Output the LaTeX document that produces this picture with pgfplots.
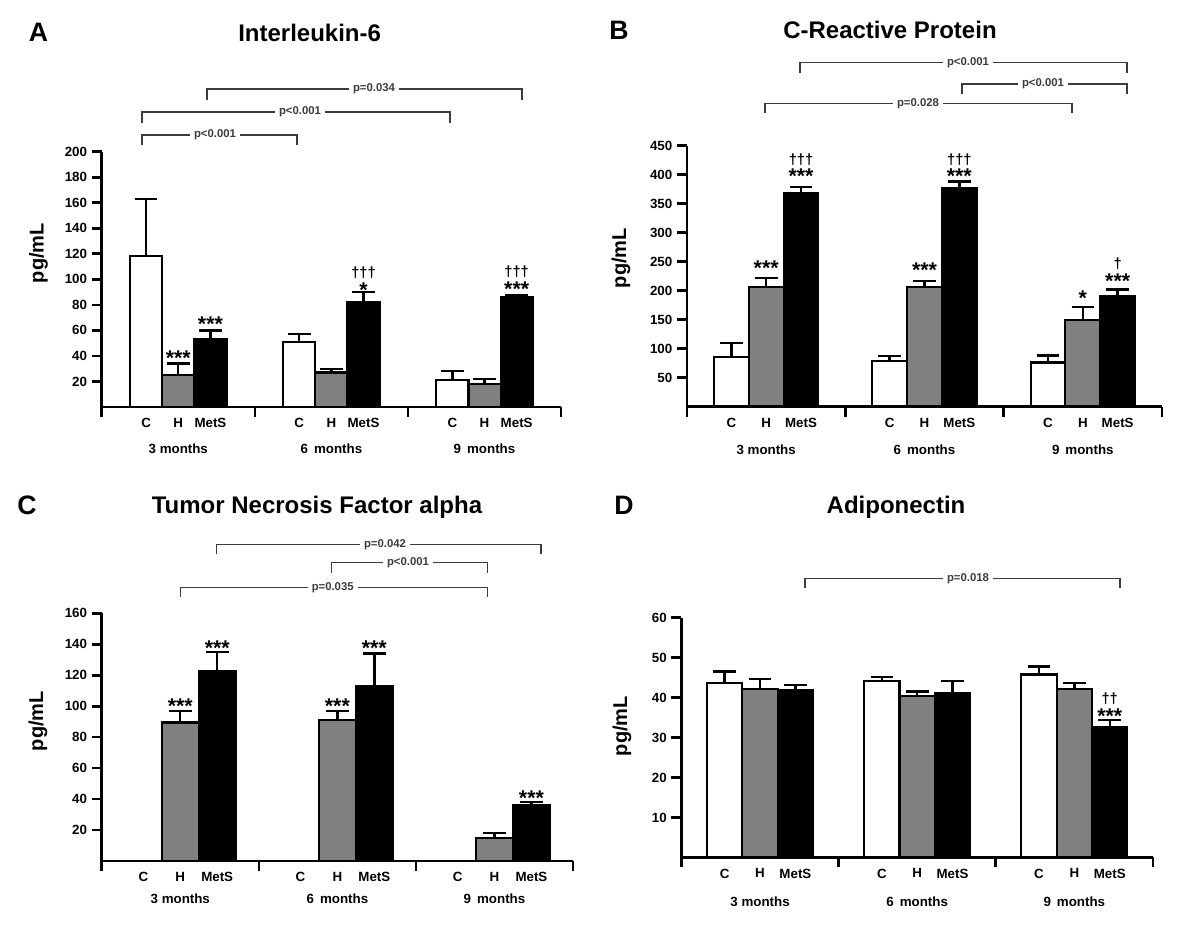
\documentclass[border=0pt]{standalone}
\usepackage{pgfplots}
\pgfplotsset{compat=1.18}
\usepackage{pgfplotstable}
\usepackage{fontspec}
\setmainfont{Liberation Sans}
\definecolor{barg}{RGB}{128,128,128}
\definecolor{brk}{RGB}{60,60,60}

% group, value and SEM for Control (C), H and MetS
\pgfplotstableread{
g C Ce H He M Me
1 118 45 25 9 53 7
2 51 6 27 3 82 8
3 21 7 18 4 86 1.5
}\tabIL
\pgfplotstableread{
g C Ce H He M Me
1 85 25 206 16 369 10
2 79 8 206 11 377 11
3 76 12 149 23 191 11
}\tabCRP
\pgfplotstableread{
g C Ce H He M Me
1 0 0 89.5 7.5 123 12
2 0 0 91 6 113 21
3 0 0 15 3 36 2
}\tabTNF
\pgfplotstableread{
g C Ce H He M Me
1 43.7 2.8 42.2 2.5 41.9 1.3
2 44.2 1.0 40.4 1.1 41.2 2.9
3 45.8 2.0 42.2 1.5 32.6 1.8
}\tabADI

\newcommand{\tfont}{\bfseries\fontsize{10}{12}\selectfont}
\pgfplotsset{
  panel/.style={scale only axis, anchor=south west, clip=false,
    xmin=0.5, xmax=3.5, ymin=0,
    axis x line*=bottom, axis y line*=left,
    axis line style={-, line width=2pt, black},
    tick align=outside, major tick length=7.5pt,
    tick style={line width=2pt, black},
    xtick={0.5,1.5,2.5,3.5}, xticklabels={},
    extra x tick labels={C,H,MetS,C,H,MetS,C,H,MetS},
    extra x tick style={major tick length=0pt, tick label style={yshift=-5pt}},
    /pgf/number format/assume math mode=true,
    tick label style={font=\tfont, black}},
  bC/.style={ybar, bar shift=0pt, fill=white, draw=black, line width=1.6pt},
  bH/.style={ybar, bar shift=0pt, fill=barg, draw=black, line width=1.6pt},
  bM/.style={ybar, bar shift=0pt, fill=black, draw=black, line width=1.6pt},
  err/.style={/pgfplots/error bars/y dir=plus, /pgfplots/error bars/y explicit,
    /pgfplots/error bars/error bar style={line width=1.8pt, black},
    /pgfplots/error bars/error mark options={rotate=90, line width=1.8pt, black, mark size=8.5pt}},
}
\tikzset{
  ast/.style={font=\bfseries\fontsize{16}{18}\selectfont, inner sep=0pt},
  dag/.style={font=\bfseries\fontsize{11}{13}\selectfont, inner sep=0pt},
  mon/.style={font=\tfont},
  ttl/.style={font=\bfseries\fontsize{18}{20}\selectfont, anchor=base},
  let/.style={font=\bfseries\fontsize{20}{22}\selectfont, anchor=base},
  ylab/.style={font=\bfseries\fontsize{15}{17}\selectfont, rotate=90},
  pv/.style={font=\bfseries\fontsize{8.5}{10}\selectfont, fill=white, inner xsep=3pt, inner ysep=1pt, text=brk},
}

\begin{document}
\begin{tikzpicture}
\useasboundingbox (0,0) rectangle (900pt,-696.75pt);

% A: Interleukin-6
\begin{axis}[panel, at={(76.3pt,-305.25pt)}, width=344.5pt, height=191.5pt,
  ymax=200, ytick={20,40,...,200},
  extra x ticks={0.79,1,1.21,1.79,2,2.21,2.79,3,3.21}]
\addplot[bC, bar width=0.21, err] table[x expr=\thisrow{g}-0.21, y=C, y error=Ce] {\tabIL};
\addplot[bH, bar width=0.21, err] table[x expr=\thisrow{g}, y=H, y error=He] {\tabIL};
\addplot[bM, bar width=0.21, err] table[x expr=\thisrow{g}+0.21, y=M, y error=Me] {\tabIL};
\node[ast] at (axis cs:1,37.9) {***};
\node[ast] at (axis cs:1.21,64.6) {***};
\node[dag] at (axis cs:2.21,105.2) {†††};
\node[ast] at (axis cs:2.21,91.2) {*};
\node[dag] at (axis cs:3.21,106) {†††};
\node[ast] at (axis cs:3.21,92) {***};
\node[mon, yshift=-31.5pt] at (axis cs:1,0) {3 months};
\node[mon, yshift=-31.5pt] at (axis cs:2,0) {6\hspace{0.45em}months};
\node[mon, yshift=-31.5pt] at (axis cs:3,0) {9\hspace{0.45em}months};
\end{axis}

% B: C-Reactive Protein
\begin{axis}[panel, at={(515.25pt,-304.9pt)}, width=356.25pt, height=195.6pt,
  ymax=450, ytick={50,100,...,450},
  extra x ticks={0.78,1,1.22,1.78,2,2.22,2.78,3,3.22}]
\addplot[bC, bar width=0.22, err] table[x expr=\thisrow{g}-0.22, y=C, y error=Ce] {\tabCRP};
\addplot[bH, bar width=0.22, err] table[x expr=\thisrow{g}, y=H, y error=He] {\tabCRP};
\addplot[bM, bar width=0.22, err] table[x expr=\thisrow{g}+0.22, y=M, y error=Me] {\tabCRP};
\node[ast] at (axis cs:1,239) {***};
\node[dag] at (axis cs:1.22,425.3) {†††};
\node[ast] at (axis cs:1.22,397.2) {***};
\node[ast] at (axis cs:2,234.5) {***};
\node[dag] at (axis cs:2.22,426.5) {†††};
\node[ast] at (axis cs:2.22,397.2) {***};
\node[ast] at (axis cs:3,186.2) {*};
\node[dag] at (axis cs:3.22,247) {†};
\node[ast] at (axis cs:3.22,217.2) {***};
\node[mon, yshift=-32.6pt] at (axis cs:1,0) {3 months};
\node[mon, yshift=-32.6pt] at (axis cs:2,0) {6\hspace{0.45em}months};
\node[mon, yshift=-32.6pt] at (axis cs:3,0) {9\hspace{0.45em}months};
\end{axis}

% C: Tumor Necrosis Factor alpha
\begin{axis}[panel, at={(76.3pt,-645.75pt)}, width=353.5pt, height=185.8pt,
  ymax=160, ytick={20,40,...,160},
  extra x ticks={0.765,1,1.235,1.765,2,2.235,2.765,3,3.235}]
\addplot[bC, bar width=0.235] table[x expr=\thisrow{g}-0.235, y=C] {\tabTNF};
\addplot[bH, bar width=0.235, err] table[x expr=\thisrow{g}, y=H, y error=He] {\tabTNF};
\addplot[bM, bar width=0.235, err] table[x expr=\thisrow{g}+0.235, y=M, y error=Me] {\tabTNF};
\node[ast] at (axis cs:1,99.9) {***};
\node[ast] at (axis cs:1.235,137.2) {***};
\node[ast] at (axis cs:2,99.9) {***};
\node[ast] at (axis cs:2.235,137.2) {***};
\node[ast] at (axis cs:3.235,40.3) {***};
\node[mon, yshift=-28.5pt] at (axis cs:1,0) {3 months};
\node[mon, yshift=-28.5pt] at (axis cs:2,0) {6\hspace{0.45em}months};
\node[mon, yshift=-28.5pt] at (axis cs:3,0) {9\hspace{0.45em}months};
\end{axis}

% D: Adiponectin
\begin{axis}[panel, at={(511.1pt,-643pt)}, width=353.6pt, height=179.7pt,
  ymax=60, ytick={10,20,...,60},
  extra x ticks={0.775,1,1.225,1.775,2,2.225,2.775,3,3.225}]
\addplot[bC, bar width=0.225, err] table[x expr=\thisrow{g}-0.225, y=C, y error=Ce] {\tabADI};
\addplot[bH, bar width=0.225, err] table[x expr=\thisrow{g}, y=H, y error=He] {\tabADI};
\addplot[bM, bar width=0.225, err] table[x expr=\thisrow{g}+0.225, y=M, y error=Me] {\tabADI};
\node[dag] at (axis cs:3.225,39.8) {††};
\node[ast] at (axis cs:3.225,35.3) {***};
\node[mon, yshift=-33.3pt] at (axis cs:1,0) {3 months};
\node[mon, yshift=-33.3pt] at (axis cs:2,0) {6\hspace{0.45em}months};
\node[mon, yshift=-33.3pt] at (axis cs:3,0) {9\hspace{0.45em}months};
\end{axis}

% titles, panel letters, y labels and comparison brackets (pixel grid)
\begin{scope}[x=0.75pt, y=-0.75pt]
\node[let] at (38.5,41.5) {A};
\node[let] at (619,39.5) {B};
\node[let] at (27,514) {C};
\node[let] at (624,514) {D};
\node[ttl] at (309.6,41.9) {Interleukin-6};
\node[ttl] at (890,38.6) {C-Reactive Protein};
\node[ttl] at (317,513.6) {Tumor Necrosis Factor alpha};
\node[ttl] at (896,513.6) {Adiponectin};
\node[ylab] at (38.5,253) {pg/mL};
\node[ylab] at (621,258) {pg/mL};
\node[ylab] at (38,721) {pg/mL};
\node[ylab] at (622,726) {pg/mL};
\begin{scope}[draw=brk, line width=1pt]
% A
\draw (142,145) -- (142,135) -- (297,135) -- (297,145);
\node[pv] at (215,135) {p<0.001};
\draw (142,123) -- (142,112) -- (450,112) -- (450,123);
\node[pv] at (300,112) {p<0.001};
\draw (207,100) -- (207,89) -- (522,89) -- (522,100);
\node[pv] at (374,89) {p=0.034};
% B
\draw (800,72.7) -- (800,62.7) -- (1127,62.7) -- (1127,72.7);
\node[pv] at (968,62.7) {p<0.001};
\draw (962,94) -- (962,84) -- (1127,84) -- (1127,94);
\node[pv] at (1043,84) {p<0.001};
\draw (765,113) -- (765,103.5) -- (1072,103.5) -- (1072,113);
\node[pv] at (918,103.5) {p=0.028};
% C
\draw (216.7,554) -- (216.7,544.3) -- (541,544.3) -- (541,554);
\node[pv] at (385,544.3) {p=0.042};
\draw (331.7,572.7) -- (331.7,562.7) -- (487.7,562.7) -- (487.7,572.7);
\node[pv] at (408,562.7) {p<0.001};
\draw (180.7,597.3) -- (180.7,587.3) -- (487.7,587.3) -- (487.7,597.3);
\node[pv] at (332.7,587.3) {p=0.035};
% D
\draw (805,588.3) -- (805,578.3) -- (1120,578.3) -- (1120,588.3);
\node[pv] at (968,578.3) {p=0.018};
\end{scope}
\end{scope}
\end{tikzpicture}
\end{document}
